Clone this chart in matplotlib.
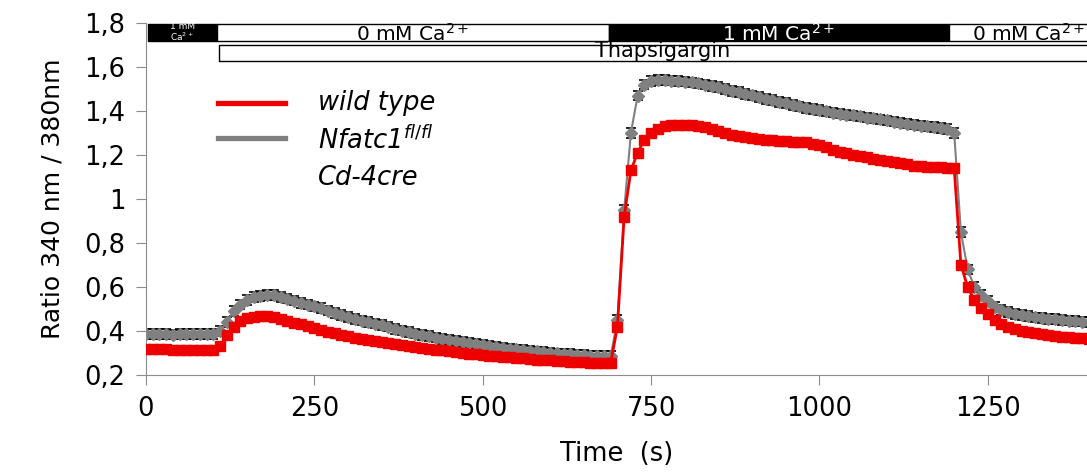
import numpy as np
import matplotlib.pyplot as plt
from matplotlib.patches import Rectangle
from matplotlib.ticker import FuncFormatter

# time axis (s), one reading every 10 s
time = np.arange(0, 1401, 10)

wild_type = [
    0.318, 0.317, 0.316, 0.316, 0.315, 0.315, 0.315, 0.314, 0.314, 0.314, 0.315,
    0.330, 0.380, 0.420, 0.445, 0.460, 0.465, 0.467, 0.466, 0.462, 0.455,
    0.447, 0.438, 0.430, 0.422, 0.414, 0.405, 0.397, 0.389, 0.382, 0.375,
    0.370, 0.365, 0.360, 0.355, 0.350, 0.345, 0.340, 0.335, 0.331, 0.327,
    0.323, 0.319, 0.315, 0.312, 0.308, 0.304, 0.300, 0.297, 0.294, 0.291,
    0.288, 0.285, 0.283, 0.280, 0.278, 0.275, 0.273, 0.270, 0.268, 0.266,
    0.264, 0.262, 0.260, 0.259, 0.257, 0.256, 0.255, 0.254, 0.255, 0.420,
    0.920, 1.130, 1.210, 1.270, 1.300, 1.320, 1.330, 1.335, 1.336, 1.336,
    1.335, 1.332, 1.327, 1.320, 1.310, 1.300, 1.290, 1.285, 1.280, 1.275,
    1.272, 1.270, 1.267, 1.264, 1.262, 1.260, 1.260, 1.258, 1.252, 1.245,
    1.235, 1.224, 1.215, 1.207, 1.200, 1.195, 1.190, 1.184, 1.178, 1.172,
    1.167, 1.162, 1.157, 1.152, 1.148, 1.146, 1.145, 1.144, 1.143, 1.140,
    0.700, 0.600, 0.540, 0.505, 0.475, 0.450, 0.432, 0.420, 0.410, 0.402,
    0.395, 0.390, 0.385, 0.381, 0.377, 0.374, 0.371, 0.369, 0.367, 0.365,
]
knockout = [
    0.386, 0.385, 0.386, 0.385, 0.384, 0.385, 0.386, 0.385, 0.385, 0.386, 0.387,
    0.400, 0.440, 0.490, 0.520, 0.540, 0.553, 0.560, 0.564, 0.563, 0.556,
    0.547, 0.538, 0.528, 0.520, 0.512, 0.503, 0.493, 0.483, 0.473, 0.463,
    0.455, 0.447, 0.440, 0.434, 0.427, 0.420, 0.410, 0.402, 0.395, 0.388,
    0.382, 0.376, 0.370, 0.365, 0.360, 0.355, 0.350, 0.345, 0.340, 0.336,
    0.332, 0.328, 0.324, 0.320, 0.316, 0.313, 0.310, 0.307, 0.304, 0.301,
    0.298, 0.296, 0.294, 0.292, 0.290, 0.288, 0.287, 0.286, 0.286, 0.450,
    0.950, 1.300, 1.470, 1.520, 1.535, 1.540, 1.540, 1.538, 1.536, 1.534,
    1.530, 1.525, 1.520, 1.514, 1.508, 1.500, 1.492, 1.485, 1.478, 1.471,
    1.464, 1.456, 1.449, 1.442, 1.435, 1.428, 1.421, 1.414, 1.408, 1.403,
    1.398, 1.393, 1.388, 1.384, 1.380, 1.375, 1.370, 1.366, 1.362, 1.357,
    1.352, 1.347, 1.343, 1.338, 1.334, 1.330, 1.326, 1.322, 1.318, 1.300,
    0.850, 0.680, 0.600, 0.565, 0.535, 0.510, 0.495, 0.485, 0.478, 0.472,
    0.467, 0.462, 0.459, 0.456, 0.453, 0.450, 0.447, 0.445, 0.443, 0.441,
]
wild_type_sem = 0.016
knockout_sem = 0.022

# bath solution periods along the top
ca_starts = [3, 105, 687, 1192]
ca_ends = [105, 687, 1192, 1430]
ca_labels = ['1 mM\nCa$^{2+}$', '0 mM Ca$^{2+}$', '1 mM Ca$^{2+}$', '0 mM Ca$^{2+}$']
ca_black = [True, False, True, False]
thapsigargin_start = 108
thapsigargin_end = 1430

fig = plt.figure(figsize=(10.87, 4.73), dpi=100)
ax = fig.add_axes([0.1343, 0.2072, 0.8662, 0.7442])

ax.errorbar(time, knockout, yerr=knockout_sem, fmt='-D', color='#808080', markersize=6,
            lw=1.5, ecolor='black', elinewidth=1, capsize=3.5, capthick=1.2, zorder=2)
ax.errorbar(time, wild_type, yerr=wild_type_sem, fmt='-s', color='#ee0000', markersize=7,
            lw=2, ecolor='black', elinewidth=1, capsize=3.5, capthick=1.2, zorder=3)

ax.set_xlim(0, 1398)
ax.set_ylim(0.2, 1.8)
ax.set_xticks([0, 250, 500, 750, 1000, 1250])
ax.set_yticks(np.arange(0.2, 1.81, 0.2))
ax.yaxis.set_major_formatter(FuncFormatter(lambda v, p: ('%g' % round(v, 1)).replace('.', ',')))

for s in ['top', 'right']:
    ax.spines[s].set_visible(False)
for s in ['left', 'bottom']:
    ax.spines[s].set_color('#8c8c8c')
ax.tick_params(direction='out', length=7, color='#8c8c8c', labelsize=18.5, pad=8)
ax.set_xlabel('Time  (s)', fontsize=18.5, labelpad=14)
ax.set_ylabel('Ratio 340 nm / 380nm', fontsize=18, labelpad=14)

# period bars
for x0, x1, lab, black in zip(ca_starts, ca_ends, ca_labels, ca_black):
    ax.add_patch(Rectangle((x0, 1.718), x1 - x0, 0.077, facecolor='black' if black else 'white',
                           edgecolor='black', lw=1, clip_on=False, zorder=4))
    if x1 - x0 < 200:
        ax.text((x0 + x1) / 2, 1.757, lab, ha='center', va='center', color='white',
                fontsize=6.5, linespacing=0.9, zorder=5)
    else:
        ax.text((x0 + x1) / 2, 1.752, lab, ha='center', va='center',
                color='white' if black else 'black', fontsize=14.5, zorder=5)
ax.add_patch(Rectangle((thapsigargin_start, 1.627), thapsigargin_end - thapsigargin_start, 0.073,
                       facecolor='white', edgecolor='black', lw=1, clip_on=False, zorder=4))
ax.text(767, 1.672, 'Thapsigargin', ha='center', va='center', fontsize=15, zorder=5)

# legend drawn by hand
ax.plot([0.0765, 0.148], [0.773, 0.773], color='#ee0000', lw=3.8, transform=ax.transAxes)
ax.plot([0.0765, 0.148], [0.673, 0.673], color='#808080', lw=3.8, transform=ax.transAxes)
ax.text(0.183, 0.773, 'wild type', style='italic', fontsize=18.5, va='center', transform=ax.transAxes)
ax.text(0.183, 0.665, 'Nfatc1$^{\\mathit{fl/fl}}$', style='italic', fontsize=18.5, va='center',
        transform=ax.transAxes)
ax.text(0.183, 0.56, 'Cd-4cre', style='italic', fontsize=18.5, va='center', transform=ax.transAxes)

plt.savefig('out.png', dpi=100)
